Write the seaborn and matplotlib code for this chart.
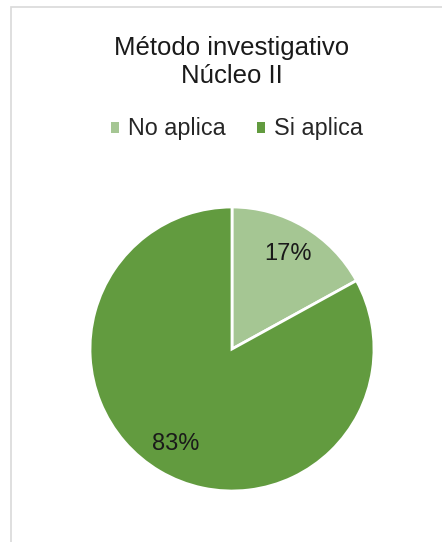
import matplotlib
matplotlib.use("Agg")
import matplotlib.pyplot as plt
from matplotlib.patches import Rectangle, Patch
import seaborn as sns

categorias = ["No aplica", "Si aplica"]
valores = [17, 83]
colores = ["#A5C693", "#629B3F"]
titulo = "Método investigativo\nNúcleo II"

sns.set_theme(style="white")
plt.rcParams['font.family'] = ['Liberation Sans', 'DejaVu Sans']

fig = plt.figure(figsize=(4.42, 5.42), dpi=100)
fig.patch.set_facecolor("white")

# borde del área del gráfico (recortado a la derecha y abajo)
fig.patches.append(Rectangle((11 / 442, -0.05), 1.2, 1 - 7 / 542 + 0.05,
                             transform=fig.transFigure, fill=False,
                             edgecolor="#D9D9D9", linewidth=1.2))

ax = fig.add_axes([90 / 442, 51 / 542, 284 / 442, 284 / 542])
wedges, textos, pcts = ax.pie(valores, colors=colores, startangle=90, counterclock=False,
                              autopct="%1.0f%%", pctdistance=0.78,
                              wedgeprops=dict(edgecolor="white", linewidth=2),
                              textprops=dict(fontsize=17, color="#1a1a1a"))
ax.set_xlim(-1, 1)
ax.set_ylim(-1, 1)
ax.set_aspect("equal")

fig.text(232 / 442, 1 - 62 / 542, titulo, ha="center", va="center",
         fontsize=18.5, color="#1a1a1a", linespacing=1.2)

handles = [Patch(facecolor=c, edgecolor="none") for c in colores]
fig.legend(handles, categorias, loc="center", bbox_to_anchor=(237 / 442, 1 - 129 / 542),
           ncol=2, frameon=False, fontsize=16.8, handlelength=0.35, handleheight=0.35,
           handletextpad=0.4, columnspacing=1.3)

fig.savefig("out.png", dpi=100, facecolor="white")
